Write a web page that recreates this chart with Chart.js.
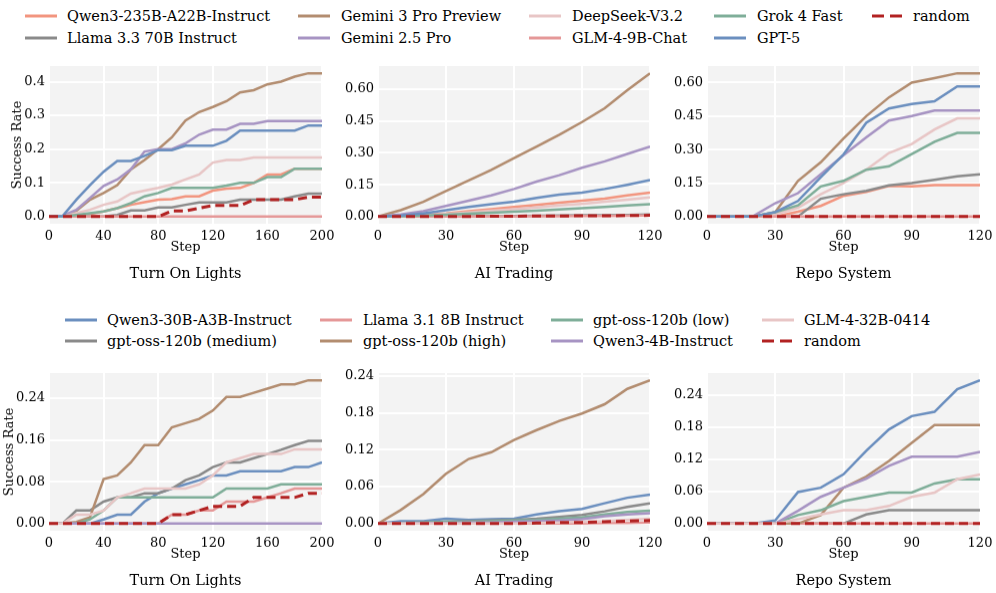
<!DOCTYPE html>
<html>
<head>
<meta charset="utf-8">
<script src="https://cdn.jsdelivr.net/npm/chart.js@4.4.0/dist/chart.umd.min.js"></script>
<style>
html, body { margin: 0; padding: 0; background: #fff; }
body { width: 996px; height: 593px; position: relative; overflow: hidden; font-family: 'DejaVu Serif', serif; }
.panel { position: absolute; }
.leg-text { position: absolute; font-size: 14.5px; color: #000; white-space: nowrap; line-height: 18px; }
.leg-handle { position: absolute; }
</style>
</head>
<body>
<script>
// Steps on the x axis
const STEPS_200 = [0, 10, 20, 30, 40, 50, 60, 70, 80, 90, 100, 110, 120, 130, 140, 150, 160, 170, 180, 190, 200];
const STEPS_120 = [0, 10, 20, 30, 40, 50, 60, 70, 80, 90, 100, 110, 120];

// Tick labels
const X_TICKS_200 = [0, 40, 80, 120, 160, 200];
const X_TICKS_120 = [0, 30, 60, 90, 120];
const Y_TICKS_TOP_LIGHTS = [0, 0.1, 0.2, 0.3, 0.4];
const Y_TICKS_TOP_OTHER = [0, 0.15, 0.3, 0.45, 0.6];
const Y_TICKS_BOT_LIGHTS = [0, 0.08, 0.16, 0.24];
const Y_TICKS_BOT_OTHER = [0, 0.06, 0.12, 0.18, 0.24];

const TASKS = ['Turn On Lights', 'AI Trading', 'Repo System'];

// Top group of models (legend order)
const TOP_MODELS = ['Qwen3-235B-A22B-Instruct', 'Llama 3.3 70B Instruct', 'Gemini 3 Pro Preview', 'Gemini 2.5 Pro',
  'DeepSeek-V3.2', 'GLM-4-9B-Chat', 'Grok 4 Fast', 'GPT-5', 'random'];
const TOP_COLORS = ['#f2957f', '#8a8a8a', '#b38d70', '#a794c3', '#e8c6c6', '#e59898', '#7fae99', '#6b8fbf', '#b22222'];

// Top: Turn On Lights
const tl_qwen235 = [0, 0, 0.003, 0.008, 0.015, 0.025, 0.035, 0.043, 0.05, 0.052, 0.06, 0.06, 0.077, 0.083, 0.085, 0.1, 0.125, 0.125, 0.142, 0.142, 0.142];
const tl_llama33 = [0, 0, 0, 0, 0, 0.005, 0.018, 0.018, 0.027, 0.027, 0.035, 0.042, 0.042, 0.042, 0.05, 0.05, 0.05, 0.05, 0.06, 0.068, 0.068];
const tl_gem3 = [0, 0, 0.017, 0.05, 0.07, 0.093, 0.14, 0.168, 0.2, 0.235, 0.285, 0.31, 0.325, 0.342, 0.368, 0.375, 0.392, 0.4, 0.415, 0.425, 0.425];
const tl_gem25 = [0, 0.002, 0.02, 0.055, 0.091, 0.11, 0.14, 0.193, 0.2, 0.2, 0.217, 0.243, 0.258, 0.258, 0.275, 0.275, 0.283, 0.283, 0.283, 0.283, 0.283];
const tl_deepseek = [0, 0, 0.01, 0.02, 0.035, 0.045, 0.068, 0.077, 0.085, 0.095, 0.11, 0.125, 0.16, 0.168, 0.168, 0.175, 0.175, 0.175, 0.175, 0.175, 0.175];
const tl_glm9 = [0, 0, 0, 0, 0, 0, 0, 0, 0, 0, 0, 0, 0, 0, 0, 0, 0, 0, 0, 0, 0];
const tl_grok = [0, 0, 0.005, 0.01, 0.015, 0.025, 0.04, 0.06, 0.07, 0.085, 0.085, 0.085, 0.085, 0.092, 0.1, 0.1, 0.117, 0.117, 0.142, 0.142, 0.142];
const tl_gpt5 = [0, 0.002, 0.05, 0.093, 0.133, 0.165, 0.165, 0.18, 0.197, 0.197, 0.21, 0.21, 0.21, 0.225, 0.255, 0.255, 0.255, 0.255, 0.255, 0.27, 0.27];
const tl_random = [0, 0, 0, 0, 0, 0, 0, 0, 0, 0.017, 0.017, 0.025, 0.033, 0.033, 0.033, 0.05, 0.05, 0.05, 0.05, 0.058, 0.058];

// Top: AI Trading
const tt_qwen235 = [0, 0.003, 0.008, 0.015, 0.025, 0.035, 0.045, 0.055, 0.065, 0.075, 0.085, 0.1, 0.113];
const tt_llama33 = [0, 0, 0.001, 0.001, 0.002, 0.002, 0.003, 0.004, 0.005, 0.006, 0.007, 0.008, 0.01];
const tt_gem3 = [0, 0.03, 0.07, 0.12, 0.17, 0.22, 0.275, 0.33, 0.385, 0.445, 0.51, 0.595, 0.675];
const tt_gem25 = [0, 0.01, 0.025, 0.05, 0.075, 0.1, 0.13, 0.165, 0.195, 0.23, 0.26, 0.295, 0.33];
const tt_deepseek = [0, 0.002, 0.006, 0.012, 0.02, 0.028, 0.035, 0.043, 0.052, 0.06, 0.07, 0.08, 0.09];
const tt_glm9 = [0, 0, 0, 0, 0, 0.001, 0.001, 0.002, 0.002, 0.003, 0.003, 0.004, 0.005];
const tt_grok = [0, 0.002, 0.005, 0.009, 0.013, 0.018, 0.023, 0.028, 0.034, 0.04, 0.046, 0.052, 0.058];
const tt_gpt5 = [0, 0.005, 0.015, 0.03, 0.045, 0.058, 0.07, 0.088, 0.103, 0.113, 0.13, 0.15, 0.172];
const tt_random = [0, 0, 0, 0.001, 0.001, 0.002, 0.002, 0.003, 0.003, 0.004, 0.004, 0.005, 0.006];

// Top: Repo System
const tr_qwen235 = [0, 0, 0, 0, 0.022, 0.048, 0.093, 0.111, 0.138, 0.135, 0.141, 0.141, 0.141];
const tr_llama33 = [0, 0, 0, 0, 0, 0.08, 0.1, 0.115, 0.14, 0.15, 0.165, 0.18, 0.19];
const tr_gem3 = [0, 0, 0, 0.02, 0.16, 0.243, 0.35, 0.45, 0.534, 0.6, 0.62, 0.642, 0.642];
const tr_gem25 = [0, 0, 0, 0.06, 0.105, 0.19, 0.275, 0.355, 0.43, 0.45, 0.475, 0.475, 0.475];
const tr_deepseek = [0, 0, 0, 0.01, 0.04, 0.1, 0.15, 0.21, 0.285, 0.325, 0.39, 0.44, 0.44];
const tr_glm9 = [0, 0, 0, 0, 0, 0, 0, 0, 0, 0, 0, 0, 0];
const tr_grok = [0, 0, 0, 0.02, 0.05, 0.135, 0.16, 0.21, 0.225, 0.28, 0.335, 0.375, 0.375];
const tr_gpt5 = [0, 0, 0, 0.02, 0.07, 0.176, 0.278, 0.42, 0.484, 0.504, 0.517, 0.583, 0.583];
const tr_random = [0, 0, 0, 0, 0, 0, 0, 0, 0, 0, 0, 0, 0];

// Bottom group of models (legend order)
const BOT_MODELS = ['Qwen3-30B-A3B-Instruct', 'gpt-oss-120b (medium)', 'Llama 3.1 8B Instruct', 'gpt-oss-120b (high)',
  'gpt-oss-120b (low)', 'Qwen3-4B-Instruct', 'GLM-4-32B-0414', 'random'];
const BOT_COLORS = ['#6b8fbf', '#8a8a8a', '#e59898', '#b38d70', '#7fae99', '#a794c3', '#e8c6c6', '#b22222'];

// Bottom: Turn On Lights
const bl_qwen30 = [0, 0, 0, 0, 0.008, 0.017, 0.017, 0.042, 0.058, 0.067, 0.075, 0.083, 0.092, 0.092, 0.1, 0.1, 0.1, 0.1, 0.108, 0.108, 0.117];
const bl_gptMed = [0, 0, 0.025, 0.025, 0.042, 0.05, 0.05, 0.058, 0.058, 0.067, 0.083, 0.092, 0.108, 0.117, 0.117, 0.125, 0.133, 0.141, 0.15, 0.158, 0.158];
const bl_llama8 = [0, 0, 0, 0, 0, 0, 0, 0, 0, 0.017, 0.017, 0.025, 0.025, 0.042, 0.042, 0.042, 0.05, 0.058, 0.067, 0.067, 0.067];
const bl_gptHigh = [0, 0, 0.003, 0.012, 0.085, 0.092, 0.117, 0.15, 0.15, 0.184, 0.192, 0.2, 0.216, 0.242, 0.242, 0.25, 0.258, 0.266, 0.266, 0.274, 0.274];
const bl_gptLow = [0, 0, 0, 0.008, 0.025, 0.05, 0.05, 0.05, 0.05, 0.05, 0.05, 0.05, 0.05, 0.067, 0.067, 0.067, 0.067, 0.075, 0.075, 0.075, 0.075];
const bl_qwen4 = [0, 0, 0, 0, 0, 0, 0, 0, 0, 0, 0, 0, 0, 0, 0, 0, 0, 0, 0, 0, 0];
const bl_glm32 = [0, 0, 0.017, 0.017, 0.025, 0.05, 0.058, 0.067, 0.067, 0.067, 0.067, 0.075, 0.092, 0.117, 0.125, 0.133, 0.133, 0.133, 0.142, 0.142, 0.142];
const bl_random = [0, 0, 0, 0, 0, 0, 0, 0, 0, 0.017, 0.017, 0.025, 0.033, 0.033, 0.033, 0.05, 0.05, 0.05, 0.05, 0.058, 0.058];

// Bottom: AI Trading
const bt_qwen30 = [0, 0.004, 0.004, 0.008, 0.006, 0.007, 0.008, 0.015, 0.02, 0.024, 0.033, 0.042, 0.047];
const bt_gptMed = [0, 0.001, 0.002, 0.003, 0.004, 0.005, 0.006, 0.008, 0.011, 0.014, 0.02, 0.027, 0.033];
const bt_llama8 = [0, 0, 0, 0, 0, 0, 0, 0, 0, 0, 0.001, 0.001, 0.002];
const bt_gptHigh = [0, 0.022, 0.048, 0.081, 0.105, 0.116, 0.136, 0.152, 0.167, 0.179, 0.194, 0.219, 0.233];
const bt_gptLow = [0, 0.001, 0.002, 0.003, 0.003, 0.004, 0.005, 0.006, 0.008, 0.01, 0.015, 0.019, 0.021];
const bt_qwen4 = [0, 0, 0.001, 0.001, 0.002, 0.002, 0.003, 0.004, 0.005, 0.007, 0.012, 0.015, 0.017];
const bt_glm32 = [0, 0, 0, 0, 0, 0, 0, 0.001, 0.002, 0.003, 0.004, 0.006, 0.008];
const bt_random = [0, 0, 0, 0, 0, 0, 0, 0.001, 0.002, 0.002, 0.003, 0.004, 0.005];

// Bottom: Repo System
const br_qwen30 = [0, 0, 0, 0.006, 0.059, 0.067, 0.092, 0.136, 0.176, 0.201, 0.209, 0.251, 0.268];
const br_gptMed = [0, 0, 0, 0, 0, 0, 0, 0.017, 0.025, 0.025, 0.025, 0.025, 0.025];
const br_llama8 = [0, 0, 0, 0, 0, 0, 0, 0, 0, 0, 0, 0, 0];
const br_gptHigh = [0, 0, 0, 0, 0, 0.016, 0.067, 0.088, 0.117, 0.151, 0.184, 0.184, 0.184];
const br_gptLow = [0, 0, 0, 0, 0.016, 0.025, 0.042, 0.05, 0.058, 0.058, 0.075, 0.083, 0.083];
const br_qwen4 = [0, 0, 0, 0, 0.024, 0.05, 0.067, 0.084, 0.108, 0.125, 0.125, 0.125, 0.134];
const br_glm32 = [0, 0, 0, 0, 0.008, 0.017, 0.025, 0.025, 0.033, 0.05, 0.058, 0.083, 0.092];
const br_random = [0, 0, 0, 0, 0, 0, 0, 0, 0, 0, 0, 0, 0];

// Layout constants (pixels)
const YW = 49;      // y axis box width
const PR = 18;      // right padding for last x label
const PT = 10;      // top padding so the top tick label is not clipped
const XH = 31;      // x axis box height (ticks + "Step")
const COLS = [[49, 322], [378, 650], [707, 980]];
const ROWS = [[66, 223], [373, 530]];

const FONT = "'DejaVu Serif', serif";
const FS_AXIS = 13;     // ticks, "Step", "Success Rate"
const FS_TITLE = 14.5;  // subplot titles
const TEXT = '#000';
const TITLE_PAD = { top: 10.5, bottom: 3 };
const TH = FS_TITLE * 1.2 + TITLE_PAD.top + TITLE_PAD.bottom;

// Grey plot background
const bgPlugin = {
    id: 'plotBg',
    beforeDraw(chart) {
        const a = chart.chartArea;
        const ctx = chart.ctx;
        ctx.save();
        ctx.fillStyle = '#f3f3f3';
        ctx.fillRect(a.left, a.top, a.right - a.left, a.bottom - a.top);
        ctx.restore();
    }
};

function buildDatasets(names, colors, series, steps) {
    return series.map((ys, i) => {
        const isRandom = names[i] === 'random';
        return {
            label: names[i],
            data: ys.map((y, k) => ({ x: steps[k], y: y })),
            borderColor: colors[i],
            borderWidth: isRandom ? 3 : 2.5,
            borderDash: isRandom ? [9, 5] : [],
            pointRadius: 0,
            tension: 0,
            fill: false,
            order: series.length - i
        };
    });
}

function makePanel(row, col, names, colors, series, steps, xTicks, yTicks, decimals, yTitlePad) {
    const [l, r] = COLS[col];
    const [t, b] = ROWS[row];
    const div = document.createElement('div');
    div.className = 'panel';
    div.style.left = (l - YW) + 'px';
    div.style.top = (t - PT) + 'px';
    div.style.width = (r - l + YW + PR) + 'px';
    div.style.height = (b - t + PT + XH + TH) + 'px';
    const canvas = document.createElement('canvas');
    div.appendChild(canvas);
    document.body.appendChild(div);

    const top = Math.max(...series.flat());
    const xMax = steps[steps.length - 1];

    return new Chart(canvas.getContext('2d'), {
        type: 'line',
        data: { datasets: buildDatasets(names, colors, series, steps) },
        options: {
            responsive: true,
            maintainAspectRatio: false,
            animation: false,
            layout: { padding: { left: 0, top: PT, right: PR, bottom: 0 } },
            plugins: {
                legend: { display: false },
                tooltip: { enabled: false },
                title: {
                    display: true,
                    position: 'bottom',
                    fullSize: false,
                    text: TASKS[col],
                    color: TEXT,
                    font: { family: FONT, size: FS_TITLE, weight: 'normal' },
                    padding: TITLE_PAD
                }
            },
            scales: {
                x: {
                    type: 'linear',
                    min: 0,
                    max: xMax,
                    afterBuildTicks: s => { s.ticks = xTicks.map(v => ({ value: v })); },
                    afterFit: s => { s.height = XH; s.paddingLeft = 0; s.paddingRight = 0; },
                    grid: { color: '#ffffff', lineWidth: 2, drawTicks: false },
                    border: { display: false },
                    ticks: { color: TEXT, padding: 5, maxRotation: 0, font: { family: FONT, size: FS_AXIS } },
                    title: { display: true, text: 'Step', color: TEXT, font: { family: FONT, size: FS_AXIS }, padding: { top: 0, bottom: 0 } }
                },
                y: {
                    type: 'linear',
                    min: -0.05 * top,
                    max: 1.05 * top,
                    afterBuildTicks: s => { s.ticks = yTicks.map(v => ({ value: v })); },
                    afterFit: s => { s.width = YW; s.paddingTop = 0; s.paddingBottom = 0; },
                    grid: { color: '#ffffff', lineWidth: 2, drawTicks: false },
                    border: { display: false },
                    ticks: {
                        color: TEXT, padding: 4, font: { family: FONT, size: FS_AXIS },
                        callback: v => Number(v).toFixed(decimals)
                    },
                    title: {
                        display: col === 0,
                        text: 'Success Rate',
                        color: TEXT,
                        font: { family: FONT, size: FS_AXIS },
                        padding: { top: yTitlePad, bottom: 0 }
                    }
                }
            }
        },
        plugins: [bgPlugin]
    });
}

// Legend rows (matplotlib style, column-major, 2 rows)
function makeLegend(names, colors, handleX, textX, rowY) {
    names.forEach((name, i) => {
        const c = Math.floor(i / 2);
        const y = rowY[i % 2];
        const svg = document.createElementNS('http://www.w3.org/2000/svg', 'svg');
        svg.setAttribute('class', 'leg-handle');
        svg.setAttribute('width', '32');
        svg.setAttribute('height', '6');
        svg.style.left = handleX[c] + 'px';
        svg.style.top = (y - 3) + 'px';
        const line = document.createElementNS('http://www.w3.org/2000/svg', 'line');
        line.setAttribute('x1', '0'); line.setAttribute('x2', '32');
        line.setAttribute('y1', '3'); line.setAttribute('y2', '3');
        line.setAttribute('stroke', colors[i]);
        line.setAttribute('stroke-width', '3');
        if (name === 'random') line.setAttribute('stroke-dasharray', '12 6');
        svg.appendChild(line);
        document.body.appendChild(svg);

        const span = document.createElement('div');
        span.className = 'leg-text';
        span.textContent = name;
        span.style.left = textX[c] + 'px';
        span.style.top = (y - 9) + 'px';
        document.body.appendChild(span);
    });
}

makeLegend(TOP_MODELS, TOP_COLORS, [25, 298, 529, 714, 872], [67, 341, 572, 757, 913], [16, 37.5]);
makeLegend(BOT_MODELS, BOT_COLORS, [65, 320, 551, 762], [107, 363, 593, 804], [320, 340.5]);

makePanel(0, 0, TOP_MODELS, TOP_COLORS,
    [tl_qwen235, tl_llama33, tl_gem3, tl_gem25, tl_deepseek, tl_glm9, tl_grok, tl_gpt5, tl_random],
    STEPS_200, X_TICKS_200, Y_TICKS_TOP_LIGHTS, 1, 10);
makePanel(0, 1, TOP_MODELS, TOP_COLORS,
    [tt_qwen235, tt_llama33, tt_gem3, tt_gem25, tt_deepseek, tt_glm9, tt_grok, tt_gpt5, tt_random],
    STEPS_120, X_TICKS_120, Y_TICKS_TOP_OTHER, 2, 0);
makePanel(0, 2, TOP_MODELS, TOP_COLORS,
    [tr_qwen235, tr_llama33, tr_gem3, tr_gem25, tr_deepseek, tr_glm9, tr_grok, tr_gpt5, tr_random],
    STEPS_120, X_TICKS_120, Y_TICKS_TOP_OTHER, 2, 0);

makePanel(1, 0, BOT_MODELS, BOT_COLORS,
    [bl_qwen30, bl_gptMed, bl_llama8, bl_gptHigh, bl_gptLow, bl_qwen4, bl_glm32, bl_random],
    STEPS_200, X_TICKS_200, Y_TICKS_BOT_LIGHTS, 2, 2);
makePanel(1, 1, BOT_MODELS, BOT_COLORS,
    [bt_qwen30, bt_gptMed, bt_llama8, bt_gptHigh, bt_gptLow, bt_qwen4, bt_glm32, bt_random],
    STEPS_120, X_TICKS_120, Y_TICKS_BOT_OTHER, 2, 0);
makePanel(1, 2, BOT_MODELS, BOT_COLORS,
    [br_qwen30, br_gptMed, br_llama8, br_gptHigh, br_gptLow, br_qwen4, br_glm32, br_random],
    STEPS_120, X_TICKS_120, Y_TICKS_BOT_OTHER, 2, 0);
</script>
</body>
</html>
